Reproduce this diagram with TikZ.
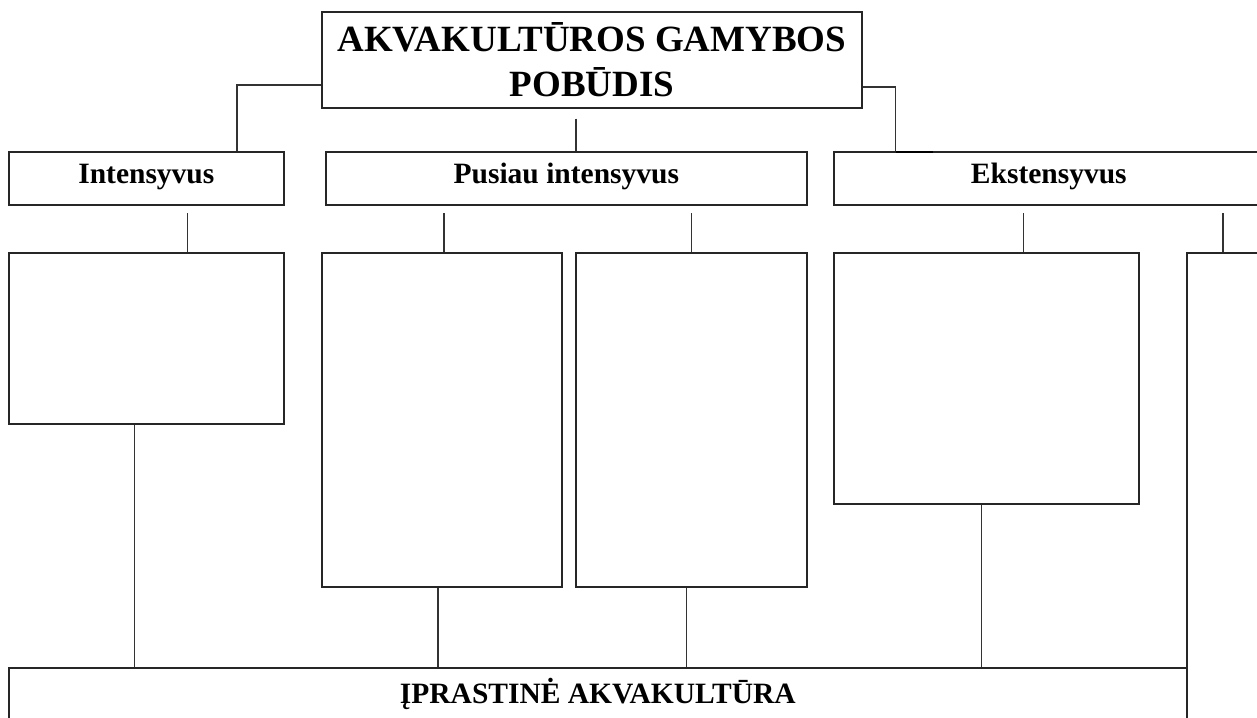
\documentclass[tikz,border=0pt]{standalone}
\usepackage{fontspec}
\setmainfont{Liberation Serif}
\usepackage{tikz}
\usetikzlibrary{calc}
\tikzset{
	dez/.style={draw=black!85, line width=1.7pt, anchor=north west, inner sep=0pt, font=\bfseries\fontsize{29.5}{32}\selectfont},
	jung/.style={draw=black!80, line width=1.4pt}
}

\begin{document}
\begin{tikzpicture}[x=1pt, y=-1pt]
			%%%%% START %%%%%
			\useasboundingbox (0, 0) rectangle (1257, 717);
			\clip (0, 0) rectangle (1257, 717);
			
			\node[dez, minimum width=540pt, minimum height=96pt, align=center, font=\bfseries\fontsize{37}{45}\selectfont] (pob) at (321, 11) {AKVAKULTŪROS GAMYBOS\\POBŪDIS};
			
			\node[dez, minimum width=275pt, minimum height=53pt, text depth=10pt] (int) at (8, 151) {Intensyvus};
			\node[dez, minimum width=481pt, minimum height=53pt, text depth=10pt] (pus) at (325, 151) {Pusiau intensyvus};
			\node[dez, minimum width=430pt, minimum height=53pt, text depth=10pt] (eks) at (833, 151) {Ekstensyvus};
			
			\node[dez, minimum width=275pt, minimum height=171pt] (ka) at (8, 252) {};
			\node[dez, minimum width=240pt, minimum height=334pt] (kb) at (321, 252) {};
			\node[dez, minimum width=231pt, minimum height=334pt] (kc) at (575, 252) {};
			\node[dez, minimum width=305pt, minimum height=251pt] (kd) at (833, 252) {};
			\node[dez, minimum width=120pt, minimum height=500pt] (ke) at (1186, 252) {};
			
			\node[dez, minimum width=1178pt, minimum height=52pt] (ipr) at (8, 667) {ĮPRASTINĖ AKVAKULTŪRA};
			
			\coordinate (pobfoot) at ([xshift=-16pt, yshift=-10pt]pob.south);
			\draw[jung] ([yshift=-25pt]pob.west) -| ([xshift=90.5pt]int.north);
			\draw[jung] (pobfoot) -- (pobfoot |- pus.north);
			\draw[jung] ([yshift=-27pt]pob.east) -| ([xshift=62.7pt]eks.north west);
			\draw[line width=2.6pt] ([xshift=62.7pt, yshift=-1pt]eks.north west) -- ++(37pt, 0pt);
			
			\draw[jung] ([xshift=41pt]ka.north) -- ++(0pt, 39pt);
			\draw[jung] ([xshift=2pt]kb.north) -- ++(0pt, 39pt);
			\draw[jung] (kc.north) -- ++(0pt, 39pt);
			\draw[jung] ([xshift=37pt]kd.north) -- ++(0pt, 39pt);
			\draw[jung] ([xshift=37pt]ke.north west) -- ++(0pt, 39pt);
			
			\draw[jung] ([xshift=-12pt]ka.south) -- ([xshift=-12pt]ka.south |- ipr.north);
			\draw[jung] ([xshift=-4pt]kb.south) -- ([xshift=-4pt]kb.south |- ipr.north);
			\draw[jung] ([xshift=-5pt]kc.south) -- ([xshift=-5pt]kc.south |- ipr.north);
			\draw[jung] ([xshift=-5pt]kd.south) -- ([xshift=-5pt]kd.south |- ipr.north);
			
			%%%%% END %%%%%
		\end{tikzpicture}
\end{document}
